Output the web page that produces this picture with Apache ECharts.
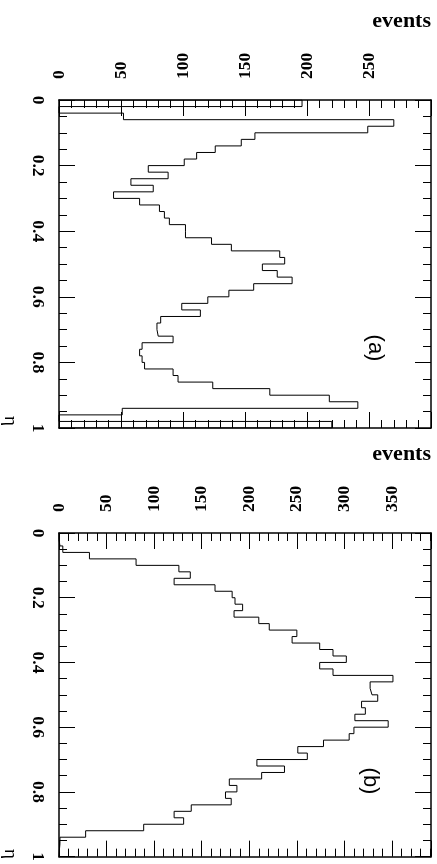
<!DOCTYPE html>
<html>
<head>
<meta charset="utf-8">
<script src="https://cdn.jsdelivr.net/npm/echarts@6/dist/echarts.min.js"></script>
<style>
  html, body { margin: 0; padding: 0; background: #fff; }
  #main { width: 437px; height: 864px; }
</style>
</head>
<body>
<div id="main"></div>
<script>
// bin edges in eta (50 bins of 0.02)
var etaEdges = [0, 0.02, 0.04, 0.06, 0.08, 0.1, 0.12, 0.14, 0.16, 0.18,
    0.2, 0.22, 0.24, 0.26, 0.28, 0.3, 0.32, 0.34, 0.36, 0.38,
    0.4, 0.42, 0.44, 0.46, 0.48, 0.5, 0.52, 0.54, 0.56, 0.58,
    0.6, 0.62, 0.64, 0.66, 0.68, 0.7, 0.72, 0.74, 0.76, 0.78,
    0.8, 0.82, 0.84, 0.86, 0.88, 0.9, 0.92, 0.94, 0.96, 0.98, 1];

// panel (a) events per bin
var eventsA = [196, 0, 52, 270, 249, 158, 147, 126, 111, 101,
    72, 88, 58, 76, 44, 65, 81, 85, 89, 102,
    102, 123, 139, 178, 182, 164, 176, 188, 157, 137,
    120, 99, 114, 82, 79, 80, 92, 67, 65, 67,
    69, 92, 96, 124, 170, 218, 241, 51, 0, 220];

// panel (b) events per bin
var eventsB = [0, 1, 4, 32, 81, 126, 138, 121, 164, 182,
    185, 193, 184, 210, 221, 250, 245, 274, 288, 302,
    274, 288, 351, 327, 329, 335, 318, 322, 311, 346,
    310, 305, 278, 251, 261, 208, 237, 213, 179, 187,
    175, 181, 139, 121, 131, 89, 28, 1, 0.4, 0];

var eventsMax = [300, 391];
var panelLabels = ['(a)', '(b)'];

var dom = document.getElementById("main");
var myChart = echarts.init(dom);

var serif = "'Liberation Serif', 'Times New Roman', serif";

// histogram outline: value held constant over each eta bin
function outline(vals) {
    var pts = [[0, etaEdges[0]]];
    for (var i = 0; i < vals.length; i++) {
        pts.push([vals[i], etaEdges[i]]);
        pts.push([vals[i], etaEdges[i + 1]]);
    }
    pts.push([0, etaEdges[etaEdges.length - 1]]);
    return pts;
}

function evAxis(g, pos, max, labels) {
    return {
        gridIndex: g,
        type: 'value',
        position: pos,
        min: 0,
        max: max,
        interval: 50,
        axisLine: { show: true, onZero: false, lineStyle: { color: '#000', width: 1.5 } },
        axisTick: { show: true, inside: true, length: 16, lineStyle: { color: '#000', width: 1 } },
        minorTick: { show: true, splitNumber: 5, length: 8, lineStyle: { color: '#000', width: 1 } },
        axisLabel: {
            show: labels,
            rotate: -90,
            margin: 21,
            showMaxLabel: false,
            color: '#000',
            fontFamily: serif,
            fontWeight: 'bold',
            fontSize: 17.5
        },
        splitLine: { show: false }
    };
}

function etaAxis(g, pos, labels) {
    return {
        gridIndex: g,
        type: 'value',
        position: pos,
        inverse: true,
        min: 0,
        max: 1,
        interval: 0.2,
        axisLine: { show: true, onZero: false, lineStyle: { color: '#000', width: 1.5 } },
        axisTick: { show: true, inside: true, length: 16, lineStyle: { color: '#000', width: 1 } },
        minorTick: { show: true, splitNumber: 4, length: 8, lineStyle: { color: '#000', width: 1 } },
        axisLabel: {
            show: labels,
            rotate: -90,
            margin: 12,
            color: '#000',
            fontFamily: serif,
            fontWeight: 'bold',
            fontSize: 17.5
        },
        splitLine: { show: false }
    };
}

var grids = [
    { left: 59, width: 372, top: 100, height: 328 },
    { left: 59, width: 372, top: 533, height: 328 }
];

var xAxes = [], yAxes = [], series = [], graphics = [];
[eventsA, eventsB].forEach(function (vals, g) {
    xAxes.push(evAxis(g, 'top', eventsMax[g], true));
    xAxes.push(evAxis(g, 'bottom', eventsMax[g], false));
    yAxes.push(etaAxis(g, 'left', true));
    yAxes.push(etaAxis(g, 'right', false));
    series.push({
        type: 'line',
        xAxisIndex: 2 * g,
        yAxisIndex: 2 * g,
        data: outline(vals),
        showSymbol: false,
        lineStyle: { color: '#000', width: 1 },
        silent: true
    });
    var top = grids[g].top;
    graphics.push({
        type: 'text', x: 431, y: top - 68,
        style: { text: 'events', fill: '#000', font: 'bold 22px ' + serif, align: 'right', verticalAlign: 'bottom' }
    });
    graphics.push({
        type: 'text', x: 10, y: top + 321, rotation: -Math.PI / 2,
        style: { text: 'η', fill: '#000', font: '19px ' + serif, align: 'center', verticalAlign: 'middle' }
    });
    graphics.push({
        type: 'text', x: g === 0 ? 375 : 370, y: top + 248, rotation: -Math.PI / 2,
        style: { text: panelLabels[g], fill: '#000', font: '22px "Liberation Sans", sans-serif', align: 'center', verticalAlign: 'middle' }
    });
});

var option = {
    animation: false,
    backgroundColor: '#fff',
    grid: grids,
    xAxis: xAxes,
    yAxis: yAxes,
    series: series,
    graphic: graphics
};

myChart.setOption(option);
</script>
</body>
</html>
